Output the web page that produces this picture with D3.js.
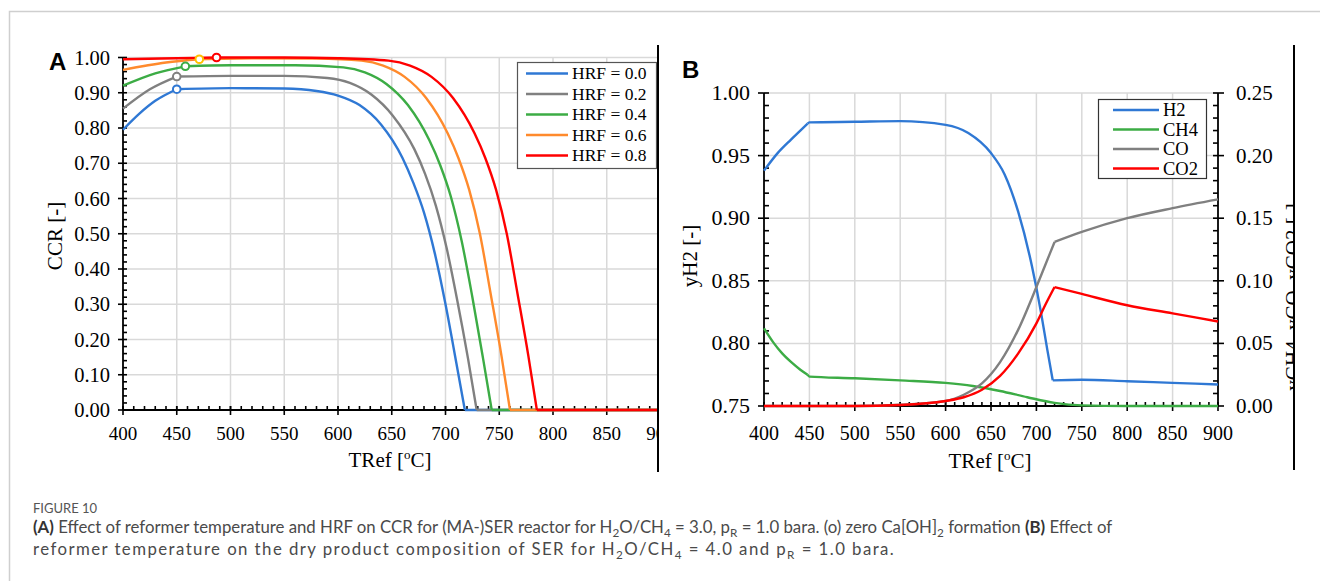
<!DOCTYPE html>
<html>
<head>
<meta charset="utf-8">
<script src="https://cdn.jsdelivr.net/npm/d3@7"></script>
<style>
  body { margin: 0; background: #fff; }
  svg { display: block; }
</style>
</head>
<body>
<svg width="1320" height="581"></svg>
<script>
// ---- panel A data: CCR vs reformer temperature for each HRF
const hrfLabels = ["HRF = 0.0", "HRF = 0.2", "HRF = 0.4", "HRF = 0.6", "HRF = 0.8"];
const ccr00 = [[400,0.795],[415,0.84],[430,0.877],[450,0.910],[500,0.913],[550,0.912],[580,0.905],[600,0.892],[620,0.865],[640,0.81],[660,0.715],[670,0.645],[680,0.56],[690,0.445],[700,0.30],[710,0.135],[718,0],[900,0]];
const ccr02 = [[400,0.855],[425,0.91],[450,0.946],[500,0.948],[550,0.948],[590,0.942],[611,0.928],[631,0.895],[651,0.835],[671,0.74],[681,0.67],[691,0.58],[701,0.46],[711,0.31],[721,0.145],[729,0],[900,0]];
const ccr04 = [[400,0.92],[430,0.955],[458,0.975],[500,0.978],[560,0.978],[605,0.972],[625,0.958],[645,0.925],[665,0.865],[685,0.765],[695,0.695],[705,0.605],[715,0.48],[725,0.32],[735,0.145],[743,0],[900,0]];
const ccr06 = [[400,0.965],[440,0.986],[471,0.995],[520,0.998],[580,0.997],[622,0.991],[642,0.977],[662,0.945],[682,0.885],[702,0.785],[712,0.715],[722,0.625],[732,0.50],[742,0.33],[752,0.155],[760,0],[900,0]];
const ccr08 = [[400,0.995],[450,0.998],[487,1.0],[550,1.0],[600,0.998],[647,0.991],[667,0.977],[687,0.945],[707,0.885],[727,0.785],[737,0.715],[747,0.625],[757,0.50],[767,0.33],[777,0.155],[785,0],[900,0]];
// (o) zero Ca[OH]2 formation points
const zeroCaOH = [[450,0.910],[450,0.946],[458,0.975],[471,0.995],[487,1.0]];
const ccrTicks = [0,0.1,0.2,0.3,0.4,0.5,0.6,0.7,0.8,0.9,1.0];
const tempTicks = [400,450,500,550,600,650,700,750,800,850,900];

// ---- panel B data: dry product composition
const gasLabels = ["H2", "CH4", "CO", "CO2"];
const yH2 = [[400,0.938],[415,0.952],[430,0.963],[440,0.970],[448,0.9755],[450,0.9765],[500,0.977],[550,0.9775],[600,0.9745],[625,0.968],[650,0.952],[665,0.935],[680,0.905],[695,0.862],[705,0.825],[712,0.795],[718,0.7705],[750,0.771],[800,0.7698],[850,0.7685],[900,0.7672]];
const yCH4 = [[400,0.062],[410,0.051],[420,0.042],[430,0.035],[440,0.029],[448,0.025],[450,0.0235],[500,0.0222],[550,0.0205],[600,0.0185],[630,0.016],[660,0.012],[690,0.007],[720,0.0025],[750,0.0005],[800,0],[900,0]];
const yCO = [[400,0],[500,0],[550,0.001],[600,0.004],[620,0.009],[640,0.018],[660,0.035],[680,0.061],[700,0.095],[710,0.113],[720,0.131],[750,0.139],[800,0.150],[850,0.158],[900,0.165]];
const yCO2 = [[400,0],[500,0],[550,0.0008],[600,0.004],[620,0.007],[640,0.013],[660,0.024],[680,0.042],[700,0.066],[710,0.081],[720,0.095],[750,0.0895],[800,0.0805],[850,0.074],[900,0.0675]];
const h2Ticks = [0.75,0.80,0.85,0.90,0.95,1.00];
const rightTicks = [0,0.05,0.10,0.15,0.20,0.25];

const hrfColors = ["#2f78d4", "#808080", "#3cac45", "#ff8a2c", "#ff0000"];
const markerColors = ["#2f78d4", "#808080", "#3cac45", "#ffc000", "#ff0000"];
const gasColors = ["#2f78d4", "#3cac45", "#808080", "#ff0000"];
const serif = "'Liberation Serif', 'Times New Roman', serif";

let svg = d3.select("svg");

// outer frame
svg.append("path").attr("d", "M9.5,581 V11.5 H1320")
  .attr("fill", "none").attr("stroke", "#cfcfcf").attr("stroke-width", 1.5);

let defs = svg.append("defs");
defs.append("clipPath").attr("id", "clipA").append("rect")
  .attr("x", 0).attr("y", 0).attr("width", 658).attr("height", 500);
defs.append("clipPath").attr("id", "clipB").append("rect")
  .attr("x", 660).attr("y", 0).attr("width", 634).attr("height", 500);

// split a series at kink temperatures, smooth inside each piece
function pieces(points, breaks) {
  let out = [], cur = [];
  points.forEach(function(p, i) {
    cur.push(p);
    if (breaks.indexOf(p[0]) >= 0 && i > 0 && i < points.length - 1) {
      out.push(cur); cur = [p];
    }
  });
  out.push(cur);
  return out;
}

function drawAxisTicks(g, scale, values, minorStep, orient, pos, majOut, majIn, minLen) {
  // minor ticks (inside)
  let lo = d3.min(values), hi = d3.max(values);
  let minor = d3.range(Math.round((hi - lo) / minorStep) + 1).map(i => lo + i * minorStep);
  minor.forEach(function(v) {
    let p = scale(v);
    if (orient === "left") g.append("line").attr("x1", pos).attr("x2", pos + minLen).attr("y1", p).attr("y2", p);
    if (orient === "right") g.append("line").attr("x1", pos).attr("x2", pos - minLen).attr("y1", p).attr("y2", p);
    if (orient === "bottom") g.append("line").attr("y1", pos).attr("y2", pos - minLen).attr("x1", p).attr("x2", p);
  });
  values.forEach(function(v) {
    let p = scale(v);
    if (orient === "left") g.append("line").attr("x1", pos - majOut).attr("x2", pos + majIn).attr("y1", p).attr("y2", p);
    if (orient === "right") g.append("line").attr("x1", pos + majOut).attr("x2", pos - majIn).attr("y1", p).attr("y2", p);
    if (orient === "bottom") g.append("line").attr("y1", pos + majOut).attr("y2", pos - majIn).attr("x1", p).attr("x2", p);
  });
  g.selectAll("line").attr("stroke", "#000").attr("stroke-width", 1.6);
}

function degTitle(g, x, y) {
  let t = g.append("text").attr("x", x).attr("y", y)
    .attr("text-anchor", "middle").attr("font-family", serif).attr("font-size", 21);
  t.append("tspan").text("TRef [");
  t.append("tspan").text("o").attr("font-size", 13).attr("dy", -8);
  t.append("tspan").text("C]").attr("dy", 8);
}

// ================= Panel A =================
let xA = d3.scaleLinear().domain([400, 900]).range([123, 660.5]);
let yA = d3.scaleLinear().domain([0, 1]).range([410, 57.5]);
let gA = svg.append("g").attr("clip-path", "url(#clipA)");

gA.append("g").selectAll("line").data(tempTicks.slice(1)).enter().append("line")
  .attr("x1", d => xA(d)).attr("x2", d => xA(d)).attr("y1", yA(0)).attr("y2", yA(1))
  .attr("stroke", "#d9d9d9").attr("stroke-width", 1.5);
gA.append("g").selectAll("line").data(ccrTicks.slice(1)).enter().append("line")
  .attr("x1", xA(400)).attr("x2", xA(900)).attr("y1", d => yA(d)).attr("y2", d => yA(d))
  .attr("stroke", "#d9d9d9").attr("stroke-width", 1.5);

let axA = gA.append("g");
axA.append("line").attr("x1", xA(400)).attr("x2", xA(900)).attr("y1", yA(0)).attr("y2", yA(0))
  .attr("stroke", "#000").attr("stroke-width", 1.8);
axA.append("line").attr("x1", xA(400)).attr("x2", xA(400)).attr("y1", yA(0)).attr("y2", yA(1))
  .attr("stroke", "#000").attr("stroke-width", 1.8);
drawAxisTicks(axA.append("g"), yA, ccrTicks, 0.02, "left", xA(400), 5, 0, 4);
drawAxisTicks(axA.append("g"), xA, tempTicks, 10, "bottom", yA(0), 5, 4, 4);

let lineA = d3.line().x(d => xA(d[0])).y(d => yA(d[1])).curve(d3.curveMonotoneX);
let seriesA = [ccr00, ccr02, ccr04, ccr06, ccr08];
seriesA.forEach(function(s, i) {
  let zeroT = s.find(p => p[1] === 0)[0];
  pieces(s, [zeroCaOH[i][0], zeroT]).forEach(function(seg) {
    gA.append("path").attr("d", lineA(seg)).attr("fill", "none")
      .attr("stroke", hrfColors[i]).attr("stroke-width", 2.4);
  });
});
gA.append("g").selectAll("circle").data(zeroCaOH).enter().append("circle")
  .attr("cx", d => xA(d[0])).attr("cy", d => yA(d[1])).attr("r", 3.8)
  .attr("fill", "#fff").attr("stroke", (d, i) => markerColors[i]).attr("stroke-width", 2);

gA.append("g").selectAll("text").data(ccrTicks).enter().append("text")
  .attr("x", 110).attr("y", d => yA(d) + 7).attr("text-anchor", "end")
  .attr("font-family", serif).attr("font-size", 20.5).text(d => d.toFixed(2));
gA.append("g").selectAll("text").data(tempTicks).enter().append("text")
  .attr("x", d => xA(d)).attr("y", 440).attr("text-anchor", "middle")
  .attr("font-family", serif).attr("font-size", 19).text(d => d);

degTitle(gA, 390, 467);
gA.append("text").attr("transform", "translate(62,236) rotate(-90)")
  .attr("text-anchor", "middle").attr("font-family", serif).attr("font-size", 21).text("CCR [-]");

// legend A
let legA = gA.append("g");
legA.append("rect").attr("x", 517.5).attr("y", 62.5).attr("width", 139).attr("height", 106)
  .attr("fill", "#fff").attr("stroke", "#555").attr("stroke-width", 1.2);
hrfLabels.forEach(function(lab, i) {
  let yy = 73.5 + i * 20.5;
  legA.append("line").attr("x1", 526).attr("x2", 568).attr("y1", yy).attr("y2", yy)
    .attr("stroke", hrfColors[i]).attr("stroke-width", 2.4);
  legA.append("text").attr("x", 572).attr("y", yy + 5.5).attr("font-family", serif)
    .attr("font-size", 17.5).text(lab);
});

svg.append("text").attr("x", 49).attr("y", 70).attr("font-family", "'Liberation Sans', Arial, sans-serif")
  .attr("font-weight", "bold").attr("font-size", 24).text("A");
svg.append("line").attr("x1", 658).attr("x2", 658).attr("y1", 45).attr("y2", 472)
  .attr("stroke", "#000").attr("stroke-width", 2);

// ================= Panel B =================
let xB = d3.scaleLinear().domain([400, 900]).range([764, 1218]);
let yB = d3.scaleLinear().domain([0.75, 1.0]).range([406, 93]);
let yR = d3.scaleLinear().domain([0, 0.25]).range([406, 93]);
let gB = svg.append("g").attr("clip-path", "url(#clipB)");

gB.append("g").selectAll("line").data(tempTicks.slice(1, -1)).enter().append("line")
  .attr("x1", d => xB(d)).attr("x2", d => xB(d)).attr("y1", yB(0.75)).attr("y2", yB(1))
  .attr("stroke", "#d9d9d9").attr("stroke-width", 1.5);
gB.append("g").selectAll("line").data(h2Ticks.slice(1)).enter().append("line")
  .attr("x1", xB(400)).attr("x2", xB(900)).attr("y1", d => yB(d)).attr("y2", d => yB(d))
  .attr("stroke", "#d9d9d9").attr("stroke-width", 1.5);

let axB = gB.append("g");
axB.append("line").attr("x1", xB(400)).attr("x2", xB(900)).attr("y1", yB(0.75)).attr("y2", yB(0.75))
  .attr("stroke", "#000").attr("stroke-width", 1.8);
axB.append("line").attr("x1", xB(400)).attr("x2", xB(400)).attr("y1", yB(0.75)).attr("y2", yB(1))
  .attr("stroke", "#000").attr("stroke-width", 1.8);
axB.append("line").attr("x1", xB(900)).attr("x2", xB(900)).attr("y1", yB(0.75)).attr("y2", yB(1))
  .attr("stroke", "#000").attr("stroke-width", 1.8);
drawAxisTicks(axB.append("g"), yB, h2Ticks, 0.01, "left", xB(400), 6, 0, 5);
drawAxisTicks(axB.append("g"), yR, rightTicks, 0.01, "right", xB(900), 6, 0, 5);
drawAxisTicks(axB.append("g"), xB, tempTicks, 10, "bottom", yB(0.75), 5, 4, 4);

let lineL = d3.line().x(d => xB(d[0])).y(d => yB(d[1])).curve(d3.curveMonotoneX);
let lineR = d3.line().x(d => xB(d[0])).y(d => yR(d[1])).curve(d3.curveMonotoneX);
let seriesB = [
  {pts: yH2, line: lineL, breaks: [448, 718]},
  {pts: yCH4, line: lineR, breaks: [448]},
  {pts: yCO, line: lineR, breaks: [720]},
  {pts: yCO2, line: lineR, breaks: [720]}
];
seriesB.forEach(function(s, i) {
  pieces(s.pts, s.breaks).forEach(function(seg) {
    gB.append("path").attr("d", s.line(seg)).attr("fill", "none")
      .attr("stroke", gasColors[i]).attr("stroke-width", 2.4);
  });
});

gB.append("g").selectAll("text").data(h2Ticks).enter().append("text")
  .attr("x", 750).attr("y", d => yB(d) + 7).attr("text-anchor", "end")
  .attr("font-family", serif).attr("font-size", 22).text(d => d.toFixed(2));
gB.append("g").selectAll("text").data(rightTicks).enter().append("text")
  .attr("x", 1236).attr("y", d => yR(d) + 7)
  .attr("font-family", serif).attr("font-size", 21).text(d => d.toFixed(2));
gB.append("g").selectAll("text").data(tempTicks).enter().append("text")
  .attr("x", d => xB(d)).attr("y", 440).attr("text-anchor", "middle")
  .attr("font-family", serif).attr("font-size", 20).text(d => d);

degTitle(gB, 990, 468);
gB.append("text").attr("transform", "translate(697,256) rotate(-90)")
  .attr("text-anchor", "middle").attr("font-family", serif).attr("font-size", 21).text("yH2 [-]");
gB.append("text").attr("transform", "translate(1300,297) rotate(-90)")
  .attr("text-anchor", "middle").attr("font-family", serif).attr("font-size", 21).text("yCH4, yCO, yCO2 [-]");

// legend B
let legB = gB.append("g");
legB.append("rect").attr("x", 1098.5).attr("y", 99.5).attr("width", 108).attr("height", 79)
  .attr("fill", "#fff").attr("stroke", "#333").attr("stroke-width", 1.2);
gasLabels.forEach(function(lab, i) {
  let yy = 110 + i * 19.5;
  legB.append("line").attr("x1", 1113).attr("x2", 1159).attr("y1", yy).attr("y2", yy)
    .attr("stroke", gasColors[i]).attr("stroke-width", 2.4);
  legB.append("text").attr("x", 1163).attr("y", yy + 6).attr("font-family", serif)
    .attr("font-size", 18.5).text(lab);
});

svg.append("text").attr("x", 682).attr("y", 78).attr("font-family", "'Liberation Sans', Arial, sans-serif")
  .attr("font-weight", "bold").attr("font-size", 24).text("B");
svg.append("line").attr("x1", 1294).attr("x2", 1294).attr("y1", 45).attr("y2", 470)
  .attr("stroke", "#000").attr("stroke-width", 2);

// ================= caption =================
let capFont = "Lato, 'Open Sans', sans-serif";
svg.append("text").attr("x", 33).attr("y", 513).attr("font-family", capFont)
  .attr("font-size", 13).attr("fill", "#555").text("FIGURE 10");

const capLine1 = [
  {t: "(A)", b: true}, {t: " Effect of reformer temperature and HRF on CCR for (MA-)SER reactor for H"},
  {t: "2", sub: true}, {t: "O/CH", after: true}, {t: "4", sub: true}, {t: " = 3.0, p", after: true}, {t: "R", sub: true},
  {t: " = 1.0 bara. (o) zero Ca[OH]", after: true}, {t: "2", sub: true}, {t: " formation ", after: true},
  {t: "(B)", b: true}, {t: " Effect of"}
];
const capLine2 = [
  {t: "reformer temperature on the dry product composition of SER for H"}, {t: "2", sub: true},
  {t: "O/CH", after: true}, {t: "4", sub: true}, {t: " = 4.0 and p", after: true}, {t: "R", sub: true}, {t: " = 1.0 bara.", after: true}
];

function caption(y, parts, size) {
  let t = svg.append("text").attr("x", 33).attr("y", y).attr("font-family", capFont)
    .attr("font-size", size).attr("fill", "#4a4a4a");
  parts.forEach(function(p) {
    let s = t.append("tspan").text(p.t);
    if (p.b) s.attr("font-weight", "bold").attr("fill", "#333");
    if (p.sub) s.attr("font-size", size * 0.7).attr("dy", 4);
    else if (p.after) s.attr("dy", -4);
  });
  return t;
}
// fit the first line to the reference width, then spread the second one
let cap1 = caption(533, capLine1, 16.5);
let capSize = 16.5 * 1080 / cap1.node().getComputedTextLength();
cap1.remove();
caption(533, capLine1, capSize);
let cap2 = caption(555, capLine2, capSize);
let nChars = capLine2.map(p => p.t).join("").length;
let extra = (863 - cap2.node().getComputedTextLength()) / nChars;
cap2.attr("letter-spacing", Math.max(0, extra).toFixed(2));
</script>
</body>
</html>
